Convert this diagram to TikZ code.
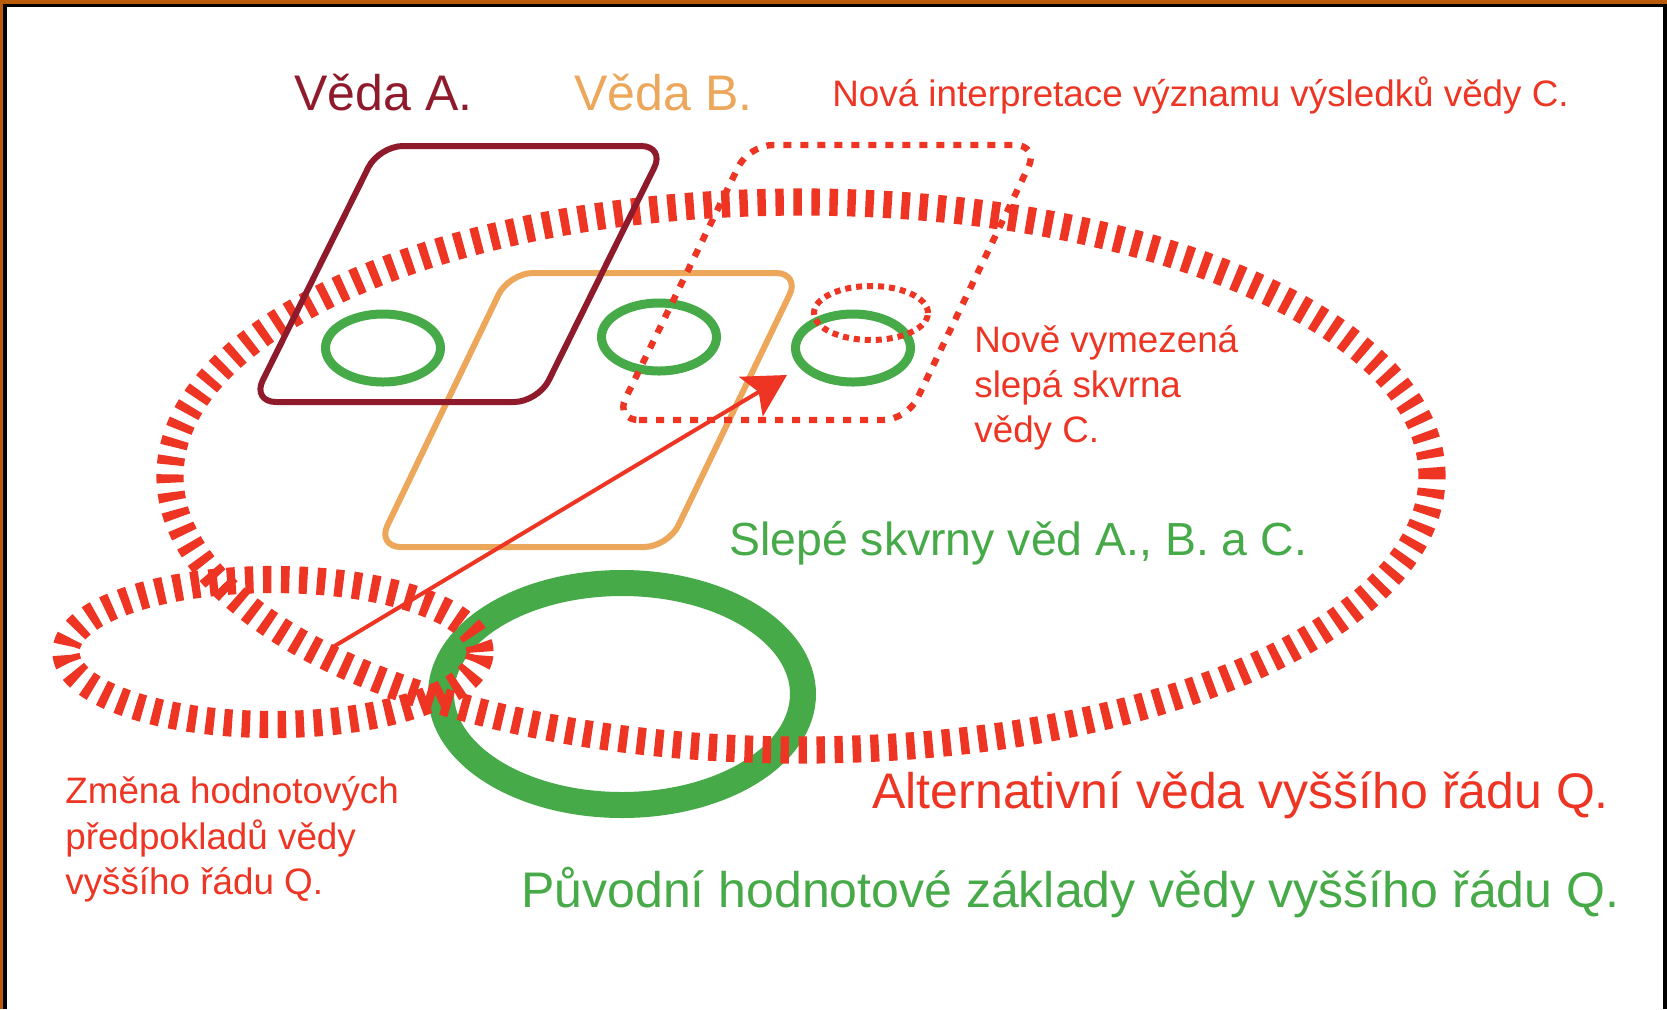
\documentclass[tikz,border=0pt]{standalone}
\usepackage{fontspec}
\setmainfont{Liberation Sans}
\usetikzlibrary{arrows.meta}
\definecolor{cred}{RGB}{238,53,36}
\definecolor{cgreen}{RGB}{70,170,72}
\definecolor{cdark}{RGB}{143,26,43}
\definecolor{corange}{RGB}{236,167,91}
\definecolor{cframe}{RGB}{184,92,12}
\begin{document}
\begin{tikzpicture}[x=0.5pt,y=-0.5pt,
  bigdash/.style={draw=cred, line width=13.6pt, dash pattern=on 4.2pt off 4.8pt},
  dotline/.style={draw=cred, line width=3.2pt, dash pattern=on 4pt off 4.5pt},
  dotsmall/.style={draw=cred, line width=3pt, dash pattern=on 3pt off 2.5pt},
  blind/.style={draw=cgreen, line width=4.5pt},
  scibox/.style={line width=3pt, rounded corners=12pt},
  lbl/.style={inner sep=0pt, anchor=base west},
  big/.style={font=\fontsize{25pt}{30pt}\selectfont},
  mid/.style={font=\fontsize{23.2pt}{28pt}\selectfont},
  small/.style={font=\fontsize{18.4pt}{22pt}\selectfont}]
\useasboundingbox (0,0) rectangle (1667,1009);
\fill[white] (0,0) rectangle (1667,1009);
% frame
\fill[cframe] (0,0) rectangle (1667,4);
\fill[cframe] (0,0) rectangle (3,1009);
\fill[black] (3,4) rectangle (1667,7);
\fill[black] (3,4) rectangle (7,1009);
\fill[black] (1663,4) rectangle (1667,1009);
% original value foundations (green ring)
\draw[draw=cgreen, line width=13pt] (622,694) ellipse [x radius=90.5pt, y radius=55.5pt];
% alternative science Q (big dashed ellipse)
\draw[bigdash] (801,476) ellipse [x radius=315.5pt, y radius=137pt];
% change of value assumptions (small dashed ellipse)
\draw[bigdash] (273,652) ellipse [x radius=103.5pt, y radius=36.25pt];
% science B
\draw[scibox, draw=corange] (377,547) -- (668,547) -- (800,273) -- (509,273) -- cycle;
% science A
\draw[scibox, draw=cdark] (252,402) -- (538,402) -- (665,146) -- (379,146) -- cycle;
% blind spots
\draw[blind] (383,348) ellipse [x radius=28.75pt, y radius=17pt];
\draw[blind] (659,337) ellipse [x radius=28.75pt, y radius=17pt];
\draw[blind] (853,348) ellipse [x radius=28.75pt, y radius=17pt];
% science C (dotted)
\draw[dotline, rounded corners=12pt] (615,420) -- (907,420) -- (1039,145) -- (749,145) -- cycle;
\draw[dotsmall] (871,313) ellipse [x radius=28.5pt, y radius=13.5pt];
% arrow
\coordinate (arrS) at (333,647);
\coordinate (arrE) at (787,375);
\draw[draw=cred, line width=2pt, -{Stealth[length=21pt,width=23pt,inset=4.5pt]}] (arrS) -- (arrE);
% labels
\node[lbl, big, text=cdark] (tA) at (294,110) {Věda A.};
\node[lbl, big, text=corange] (tB) at (574,110) {Věda B.};
\node[lbl, small, text=cred] (tC) at (832,106) {Nová interpretace významu výsledků vědy C.};
\node[lbl, small, text=cred] (tN1) at (974,352) {Nově vymezená};
\node[lbl, small, text=cred] (tN2) at (974,397) {slepá skvrna};
\node[lbl, small, text=cred] (tN3) at (974,442) {vědy C.};
\node[lbl, mid, text=cgreen] (tS) at (729,555) {Slepé skvrny věd A., B. a C.};
\node[lbl, big, text=cred] (tAlt) at (872,808) {Alternativní věda vyššího řádu Q.};
\node[lbl, big, text=cgreen] (tP) at (521,907) {Původní hodnotové základy vědy vyššího řádu Q.};
\node[lbl, small, text=cred] (tZ1) at (65,803) {Změna hodnotových};
\node[lbl, small, text=cred] (tZ2) at (65,849) {předpokladů vědy};
\node[lbl, small, text=cred] (tZ3) at (65,894) {vyššího řádu Q.};
\end{tikzpicture}
\end{document}
